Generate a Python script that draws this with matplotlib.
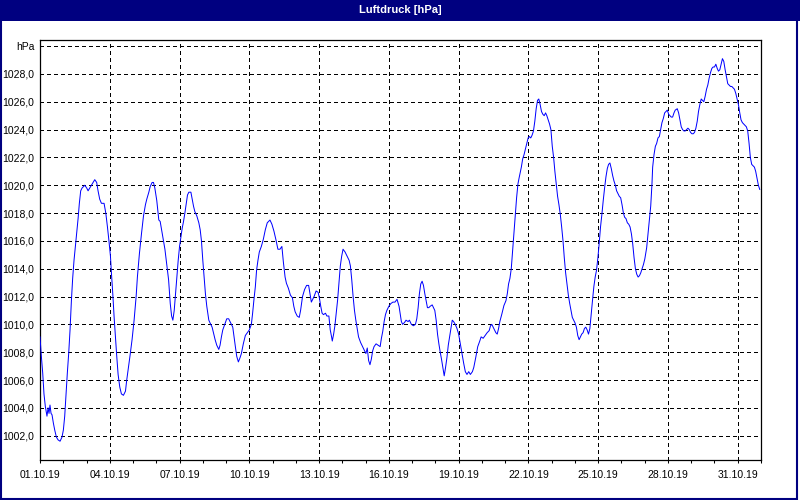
import matplotlib
matplotlib.use("Agg")
import matplotlib.pyplot as plt
import matplotlib.dates as mdates
from matplotlib.patches import Rectangle
import pandas as pd

# ---------------- data ----------------
start = pd.Timestamp("2019-10-01 00:00")
hours = [0, 1.4, 2.8, 4.1, 5.5, 7.2, 8.3, 9.3, 10.3, 11.4, 12.4, 13.8, 15.2, 16.9, 18.6, 20.7, 22.7,
         24.1, 25.5, 26.9, 28.2, 29.6, 31.0, 32.4, 33.7, 35.1, 36.5, 37.9, 39.3, 40.6, 42.0, 43.4,
         46.2, 48.2, 49.6, 51.3, 53.0, 54.8, 56.5, 58.5, 59.9, 61.6, 63.4, 66.1, 67.9, 69.6, 71.3,
         72.7, 73.7, 75.1, 76.5, 77.8, 79.2, 80.6, 82.3, 84.0, 86.1, 88.2, 89.5, 90.9, 93.0, 95.0,
         97.1, 99.2, 100.5, 102.6, 104.7, 106.8, 108.8, 110.2, 112.3, 113.7, 115.7, 117.1, 118.5,
         120.5, 122.6, 124.0,
         126.9, 128.9, 131.0, 132.7, 134.4, 135.8, 137.1, 138.5, 139.9, 141.3, 142.6, 144.0, 145.4,
         146.7, 148.1, 149.5, 150.9, 152.2, 153.6, 155.7, 157.0, 158.4, 159.8, 161.8, 163.9, 165.3,
         166.6, 168.0, 169.4, 170.7, 172.1, 174.2, 175.5, 177.6, 179.0, 180.7, 182.4, 184.5, 185.8,
         187.2, 188.6, 190.6, 192.7, 194.7, 196.8, 198.9, 200.2, 201.6, 203.0, 204.7, 206.4, 207.8,
         209.8, 211.9, 214.0, 216.0, 218.1, 219.4, 220.8, 222.2, 223.5, 224.9, 226.3, 228.4, 230.4,
         232.5, 234.5, 237.3, 239.3, 241.4, 243.4, 245.5, 247.6, 249.6,
         251.1, 252.9, 254.3, 256.3, 258.4, 260.5, 261.9, 263.3, 265.4, 267.5, 268.9, 270.9, 273.0,
         275.1, 277.2, 278.6, 280.0, 281.4, 282.8, 284.9, 287.0, 288.3, 289.7, 291.1, 292.5, 294.6,
         296.0, 298.1, 299.5, 300.9, 301.6, 303.0, 304.3, 305.7, 307.1, 308.5, 309.9, 311.3, 312.7,
         314.8, 316.9, 319.0, 320.3, 321.7, 323.1, 324.5, 325.9, 327.3, 328.7, 330.8, 332.9, 335.0,
         336.3, 337.7, 339.1, 340.5, 341.9, 343.3, 344.7, 346.8, 348.9, 351.0, 352.3, 353.7, 355.1,
         356.5, 357.9, 360.0, 362.1, 364.2, 366.3, 368.4, 370.5,
         372.9, 374.2, 376.3, 377.7, 379.8, 381.2, 383.2, 385.3, 387.4, 388.8, 390.2, 391.5, 392.9,
         394.3, 395.7, 397.1, 398.4, 399.8, 401.2, 402.6, 404.7, 406.1, 407.4, 408.8, 410.2, 411.6,
         413.0, 414.3, 415.7, 417.1, 418.5, 419.9, 421.3, 422.7, 424.0, 425.4, 426.8, 428.5, 430.3,
         432.0, 433.7, 435.5, 437.2, 438.9, 440.6, 442.4, 444.1, 446.2, 447.6, 449.6, 451.7, 453.8,
         455.2, 457.3, 459.3, 461.4, 463.5, 464.9, 466.2, 468.3, 470.4, 471.8, 473.2, 474.5, 476.6,
         478.7, 480.8, 482.2, 483.5, 484.9, 486.3, 487.7, 489.1, 490.5, 491.8, 493.2, 494.6,
         496.7, 498.1, 499.5, 500.9, 502.3, 503.7, 505.0, 506.4, 507.8, 509.2, 510.6, 512.0, 513.4,
         514.7, 516.1, 517.5, 518.9, 520.3, 521.7, 523.0, 524.4, 525.8, 527.2, 528.6, 530.0, 531.3,
         532.7, 534.1, 535.5, 536.9, 538.3, 539.7, 541.0, 542.4, 543.8, 545.2, 546.6, 548.0, 549.3,
         550.7, 552.1, 553.5, 554.9, 556.3, 557.7, 559.0, 560.4, 561.8, 563.2, 564.6, 566.0, 567.4,
         568.7, 570.1, 571.5, 572.9, 574.3, 575.7, 577.0, 578.4, 579.8, 581.2, 582.6, 584.0, 585.4,
         586.7, 588.1, 589.5, 590.9, 592.3, 593.7, 595.0, 596.4, 597.8, 599.2, 600.6, 602.0, 603.3,
         604.7, 606.1, 607.5, 608.9, 610.3, 611.6, 613.0, 614.4, 615.8, 617.2, 618.6, 619.9, 621.3,
         622.7, 624.1, 626.0, 628.1, 630.2,
         631.5, 632.2, 633.6, 635.0, 636.3, 637.7, 639.1, 640.5, 641.8, 643.2, 644.6, 646.0, 647.3,
         648.7, 650.1, 651.4, 652.8, 654.2, 655.5, 657.6, 659.0, 660.3, 661.7, 663.1, 664.5, 665.8,
         667.2, 668.6, 670.0, 671.3, 672.7, 674.1, 675.4, 676.8, 678.2, 679.5, 680.9, 682.3, 683.7,
         685.0, 686.4, 687.8, 689.1, 690.5, 691.9, 693.3, 694.6, 696.0, 697.4, 698.8, 700.1, 701.5,
         702.9, 704.2, 705.6, 707.0, 708.4, 709.7, 711.1, 712.5, 713.9, 715.2, 716.6, 718.0, 719.3,
         720.7, 722.1, 723.4, 724.8, 726.2, 727.6, 728.9, 730.3, 731.7, 733.0, 734.4, 735.8, 737.2,
         738.5, 739.9, 741.3, 742.7]
pressure = [1009.1, 1007.7, 1006.5, 1005.0, 1004.1, 1003.4, 1004.0, 1003.6, 1004.2, 1003.6, 1003.5,
            1002.9, 1002.4, 1001.9, 1001.7, 1001.6, 1001.9, 1002.4, 1003.4, 1005.0, 1006.5, 1007.9,
            1009.6, 1011.7, 1013.3, 1014.6, 1015.6, 1016.6, 1017.6, 1018.7, 1019.6, 1019.8,
            1020.0, 1019.8, 1019.6, 1019.8, 1020.0, 1020.2, 1020.4, 1020.2, 1019.6, 1019.0, 1018.7,
            1018.7, 1018.0, 1017.0, 1015.9, 1014.9, 1013.7, 1012.2, 1010.5, 1009.1, 1007.7, 1006.4,
            1005.5, 1005.0, 1004.9, 1005.2, 1006.0, 1006.7, 1007.8, 1008.9, 1010.3, 1012.0, 1013.4,
            1015.1, 1016.5, 1017.8, 1018.6, 1019.0, 1019.5, 1019.9, 1020.2, 1020.2, 1019.8, 1018.9,
            1017.5, 1017.4,
            1016.2, 1015.4, 1014.2, 1013.2, 1011.5, 1010.6, 1010.3, 1011.0, 1012.2, 1013.4, 1014.6,
            1015.6, 1016.3, 1016.9, 1017.4, 1018.0, 1018.7, 1019.3, 1019.5, 1019.5, 1019.0, 1018.5,
            1018.1, 1017.8, 1017.3, 1016.8, 1016.0, 1014.6, 1013.4, 1012.2, 1011.3, 1010.3, 1010.1,
            1009.8, 1009.4, 1008.9, 1008.5, 1008.2, 1008.5, 1009.1, 1009.6, 1010.0, 1010.4, 1010.4,
            1010.1, 1009.8, 1009.1, 1008.4, 1007.7, 1007.3, 1007.6, 1007.9, 1008.6, 1009.2, 1009.4,
            1009.6, 1010.0, 1010.8, 1011.8, 1012.7, 1013.9, 1014.6, 1015.2, 1015.6, 1016.1, 1016.8,
            1017.3, 1017.5, 1017.2, 1016.7, 1016.1, 1015.4, 1015.4, 1015.6,
            1014.5, 1013.4, 1012.95, 1012.6, 1012.1, 1011.9, 1011.3, 1010.9, 1010.6, 1010.5, 1011.0,
            1012.0, 1012.5, 1012.8, 1012.8, 1012.2, 1011.6, 1011.8, 1012.0, 1012.4, 1012.3, 1011.9,
            1011.3, 1010.8, 1010.7, 1010.8, 1010.6, 1010.6, 1009.6, 1009.1, 1008.8, 1009.3, 1009.9,
            1010.8, 1011.75, 1012.95, 1014.2, 1014.9, 1015.4, 1015.2, 1014.9, 1014.6, 1014.2, 1013.2,
            1012.0, 1011.0, 1010.3, 1009.7, 1009.1, 1008.7, 1008.4, 1008.1, 1007.9, 1008.3, 1007.4,
            1007.1, 1007.5, 1008.1, 1008.4, 1008.6, 1008.5, 1008.4, 1009.0, 1009.5, 1010.2, 1010.7,
            1011.0, 1011.3, 1011.5, 1011.6, 1011.6, 1011.8, 1011.3,
            1010.2, 1010.0, 1010.15, 1010.3, 1010.2, 1010.3, 1010.0, 1009.9, 1010.0, 1010.4, 1011.2,
            1012.2, 1012.9, 1013.1, 1012.8, 1012.2, 1011.7, 1011.2, 1011.2, 1011.3, 1011.4, 1011.2,
            1011.0, 1010.3, 1009.3, 1008.6, 1008.0, 1007.5, 1006.9, 1006.3, 1006.9, 1007.6, 1008.5,
            1009.1, 1009.7, 1010.3, 1010.2, 1010.0, 1009.7, 1009.3, 1008.6, 1007.9, 1007.2, 1006.6,
            1006.4, 1006.6, 1006.4, 1006.6, 1006.9, 1007.6, 1008.4, 1008.8, 1009.1, 1009.0, 1009.2,
            1009.4, 1009.55, 1009.9, 1010.0, 1009.7, 1009.4, 1009.3, 1009.7, 1010.2, 1010.75,
            1011.35, 1011.7, 1012.2, 1012.9, 1013.3, 1014.0, 1015.3, 1016.7, 1017.9, 1019.1, 1020.1,
            1020.6,
            1021.3, 1021.9, 1022.2, 1022.6, 1023.0, 1023.4, 1023.5, 1023.4, 1023.6, 1023.9, 1024.6,
            1025.5, 1026.1, 1026.2, 1025.8, 1025.3, 1025.1, 1025.0, 1025.2, 1025.0, 1024.7, 1024.4,
            1024.0, 1022.8, 1022.0, 1021.0, 1020.1, 1019.2, 1018.6, 1017.9, 1017.0, 1016.0, 1014.8,
            1013.7, 1012.9, 1012.1, 1011.5, 1011.0, 1010.5, 1010.3, 1010.1, 1009.8, 1009.2, 1008.9,
            1009.1, 1009.3, 1009.4, 1009.7, 1009.8, 1009.6, 1009.3, 1009.7, 1010.7, 1011.7, 1012.7,
            1013.4, 1013.9, 1014.8, 1015.8, 1017.0, 1017.9, 1018.9, 1019.8, 1020.6, 1021.2, 1021.5,
            1021.6, 1021.2, 1020.7, 1020.3, 1020.0, 1019.6, 1019.4, 1019.2, 1019.1, 1018.6, 1018.0,
            1017.7, 1017.6, 1017.3, 1017.2, 1017.0, 1016.5, 1015.8, 1014.8, 1014.0, 1013.6, 1013.4,
            1013.5, 1013.7, 1014.0, 1014.3, 1014.7, 1015.5, 1017.0, 1018.5,
            1020.1, 1021.3, 1022.2, 1022.8, 1023.0, 1023.4, 1023.5, 1024.0, 1024.5, 1024.8, 1025.2,
            1025.3, 1025.4, 1025.1, 1025.0, 1024.9, 1024.9, 1025.2, 1025.4, 1025.5, 1025.2, 1024.7,
            1024.2, 1024.0, 1023.9, 1023.9, 1024.0, 1024.1, 1024.0, 1023.8, 1023.7, 1023.7, 1023.8,
            1024.1, 1024.6, 1025.3, 1025.8, 1026.2, 1026.1, 1026.0, 1026.4, 1026.9, 1027.2, 1027.7,
            1028.1, 1028.4, 1028.5, 1028.5, 1028.7, 1028.4, 1028.2, 1028.3, 1028.7, 1029.1, 1028.9,
            1028.3, 1027.8, 1027.3, 1027.2, 1027.1, 1027.1, 1027.0, 1026.9, 1026.6, 1026.2, 1025.8,
            1025.2, 1024.7, 1024.5, 1024.4, 1024.3, 1024.2, 1023.9, 1023.0, 1022.0, 1021.5, 1021.4,
            1021.3, 1021.0, 1020.5, 1020.0, 1019.7]

tick_days = [0, 3, 6, 9, 12, 15, 18, 21, 24, 27, 30]
tick_labels = ["01.10.19", "04.10.19", "07.10.19", "10.10.19", "13.10.19", "16.10.19",
               "19.10.19", "22.10.19", "25.10.19", "28.10.19", "31.10.19"]
y_ticks = [1002, 1004, 1006, 1008, 1010, 1012, 1014, 1016, 1018, 1020, 1022, 1024, 1026, 1028, 1030]
y_labels = ["1002,0", "1004,0", "1006,0", "1008,0", "1010,0", "1012,0", "1014,0", "1016,0",
            "1018,0", "1020,0", "1022,0", "1024,0", "1026,0", "1028,0", "hPa"]
title = "Luftdruck [hPa]"

# ---------------- plot ----------------
NAVY = "#000080"
plt.rcParams["font.family"] = ["Liberation Sans", "DejaVu Sans"]

fig = plt.figure(figsize=(8, 5), dpi=100, facecolor="white")
W, H = 800.0, 500.0

# title bar
fig.add_artist(Rectangle((0, 1 - 21 / H), 1, 21 / H, transform=fig.transFigure,
                         facecolor=NAVY, edgecolor="none", zorder=0))
fig.text(0.5, 1 - 10 / H, title, color="white", fontsize=8, fontweight="bold",
         ha="center", va="center")
# outer frame
fig.add_artist(Rectangle((1 / W, 1 / H), 796 / W, 498 / H, transform=fig.transFigure,
                         fill=False, edgecolor=NAVY, linewidth=1.5, zorder=0))

ax = fig.add_axes([40 / W, 40 / H, 721 / W, 420 / H])
ax.set_facecolor("white")

times = [start + pd.Timedelta(hours=h) for h in hours]
ax.plot(times, pressure, color="#0000FF", linewidth=0.72, antialiased=True, zorder=3)

ax.set_xlim(start, start + pd.Timedelta(days=31))
ax.set_ylim(1000.25, 1030.44)

ax.set_xticks([start + pd.Timedelta(days=d) for d in tick_days])
ax.set_xticklabels(tick_labels)
ax.xaxis.set_minor_locator(mdates.DayLocator())
ax.set_yticks(y_ticks)
ax.set_yticklabels(y_labels)

ax.tick_params(axis="x", which="major", length=2.5, width=0.75, pad=5, labelsize=7.5, colors="black")
ax.tick_params(axis="x", which="minor", length=2.5, width=0.75)
ax.tick_params(axis="y", length=0, pad=4, labelsize=7.5)

ax.grid(True, which="major", color="black", linestyle=(0, (3, 3)), linewidth=0.75,
        antialiased=False)
ax.set_axisbelow(True)
for s in ax.spines.values():
    s.set_color("black")
    s.set_linewidth(0.9)

fig.savefig("out.png", dpi=100, facecolor="white")
